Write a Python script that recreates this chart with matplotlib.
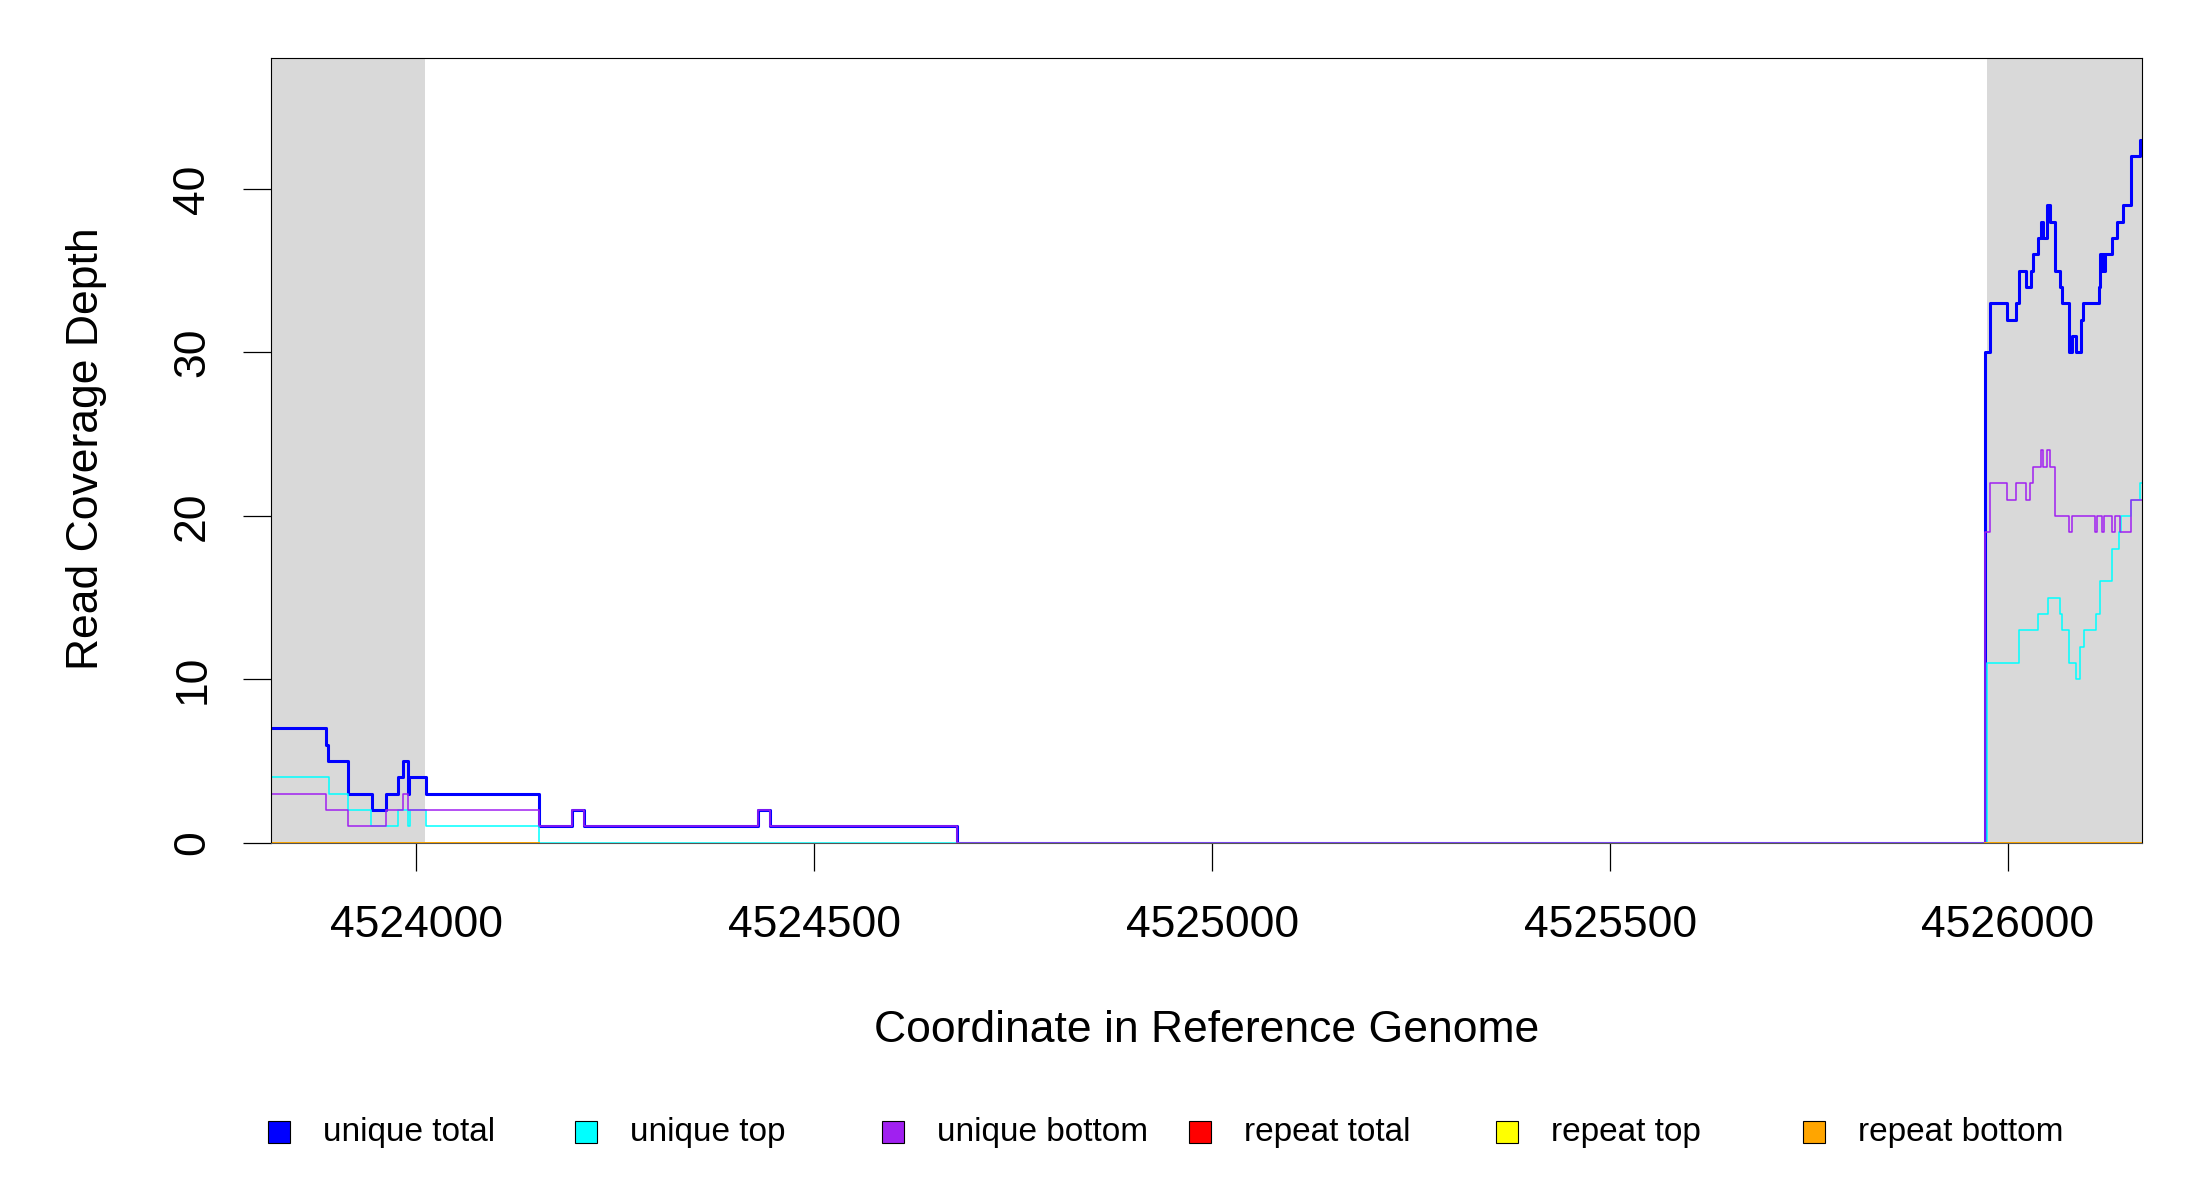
import numpy as np
import matplotlib
matplotlib.use("Agg")
import matplotlib.pyplot as plt
from matplotlib.patches import Rectangle

plt.rcParams.update({"font.family": ["Liberation Sans", "DejaVu Sans"], "font.size": 32})

# ---------- data (step starts, coverage value) ----------
x_min, x_max = 4523818, 4526168
flank_left = (4523818, 4524011)
flank_right = (4525973, 4526168)

total_x = [4523818, 4523886, 4523889, 4523914, 4523944, 4523962, 4523977, 4523983, 4523989, 4523991,
           4524012, 4524154, 4524196, 4524211, 4524429, 4524445, 4524679, 4525971, 4525978, 4525999,
           4526010, 4526014, 4526023, 4526029, 4526031, 4526038, 4526041, 4526044, 4526049, 4526053,
           4526059, 4526065, 4526068, 4526077, 4526081, 4526085, 4526092, 4526094, 4526114, 4526116,
           4526118, 4526120, 4526121, 4526122, 4526131, 4526137, 4526144, 4526155, 4526166, 4526168]
total_y = [7, 6, 5, 3, 2, 3, 4, 5, 3, 4,
           3, 1, 2, 1, 2, 1, 0, 30, 33, 32,
           33, 35, 34, 35, 36, 37, 38, 37, 39, 38,
           35, 34, 33, 30, 31, 30, 32, 33, 34, 36,
           35, 36, 35, 36, 37, 38, 39, 42, 43, 43]

top_x = [4523818, 4523890, 4523914, 4523943, 4523977, 4523990, 4523992, 4524012, 4524154, 4525973,
         4526014, 4526038, 4526050, 4526065, 4526068, 4526077, 4526086, 4526091, 4526095, 4526110,
         4526116, 4526131, 4526140, 4526142, 4526155, 4526166, 4526168]
top_y = [4, 3, 2, 1, 2, 1, 2, 1, 0, 11,
         13, 14, 15, 14, 13, 11, 10, 12, 13, 14,
         16, 18, 19, 20, 21, 22, 22]

bottom_x = [4523818, 4523887, 4523914, 4523962, 4523983, 4523989, 4524154, 4524196, 4524211, 4524429,
            4524445, 4524679, 4525971, 4525978, 4525999, 4526010, 4526023, 4526028, 4526031, 4526041,
            4526044, 4526049, 4526053, 4526059, 4526077, 4526080, 4526109, 4526112, 4526118, 4526121,
            4526131, 4526135, 4526141, 4526155, 4526168]
bottom_y = [3, 2, 1, 2, 3, 2, 1, 2, 1, 2,
            1, 0, 19, 22, 21, 22, 21, 22, 23, 24,
            23, 24, 23, 20, 19, 20, 19, 20, 19, 20,
            19, 20, 19, 21, 21]

# repeat coverage is zero wherever it was reported
repeat_x = [4523818, 4524154, np.nan, 4525971, 4526168]
repeat_total = [0, 0, np.nan, 0, 0]
repeat_top = [0, 0, np.nan, 0, 0]
repeat_bottom = [0, 0, np.nan, 0, 0]

labels = ["unique total", "unique top", "unique bottom", "repeat total", "repeat top", "repeat bottom"]
colors = ["#0000FF", "#00FFFF", "#A020F0", "#FF0000", "#FFFF00", "#FFA500"]

# ---------- figure ----------
fig = plt.figure(figsize=(22, 12), dpi=100)
ax = fig.add_axes([0.1234, 0.2978, 0.8501, 0.6536])

ax.axvspan(*flank_left, color="#D9D9D9", lw=0)
ax.axvspan(*flank_right, color="#D9D9D9", lw=0)

ax.step(total_x, total_y, where="post", color=colors[0], lw=2.2)
ax.step(top_x, top_y, where="post", color=colors[1], lw=1.1)
ax.step(bottom_x, bottom_y, where="post", color=colors[2], lw=1.1)
ax.plot(repeat_x, repeat_total, color=colors[3], lw=1.1)
ax.plot(repeat_x, repeat_top, color=colors[4], lw=1.1)
ax.plot(repeat_x, repeat_bottom, color=colors[5], lw=1.4)

ax.set_xlim(x_min, x_max)
ax.set_ylim(0, 48)
ax.set_xticks(np.arange(4524000, 4526001, 500))
ax.set_xticklabels([str(v) for v in range(4524000, 4526001, 500)])
ax.set_yticks(np.arange(0, 41, 10))
ax.set_yticklabels([str(v) for v in range(0, 41, 10)], rotation=90, va="center")
ax.tick_params(axis="both", length=20, width=0.9, labelsize=32)
ax.tick_params(axis="x", pad=25)
ax.tick_params(axis="y", pad=22)
for s in ax.spines.values():
    s.set_linewidth(0.8)
ax.spines["bottom"].set_color("#555555")

fig.text(0.5485, 1 - 1031 / 1200, "Coordinate in Reference Genome", ha="center", va="center", fontsize=32)
fig.text(87 / 2200, 1 - 449 / 1200, "Read Coverage Depth", ha="center", va="center", rotation=90, fontsize=32)

# legend row along the bottom
for i, (lab, col) in enumerate(zip(labels, colors)):
    cx = (279 + i * 307) / 2200
    cy = 1 - 1132 / 1200
    w, h = 22 / 2200, 22 / 1200
    fig.patches.append(Rectangle((cx - w / 2, cy - h / 2), w, h, transform=fig.transFigure,
                                 facecolor=col, edgecolor="black", lw=0.8))
    fig.text(cx + 44 / 2200, cy, lab, ha="left", va="center", fontsize=24)

fig.savefig("out.png", dpi=100)
